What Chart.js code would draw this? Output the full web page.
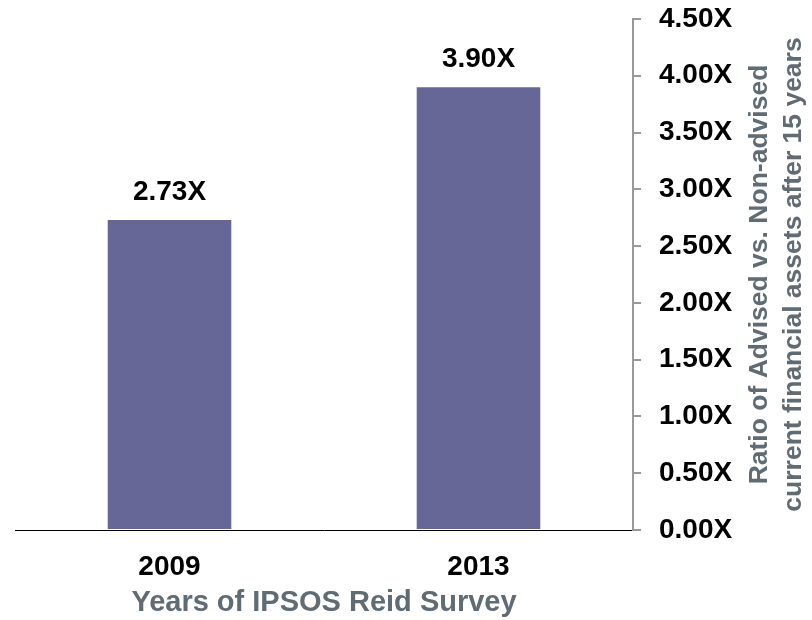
<!DOCTYPE html>
<html>
<head>
<meta charset="utf-8">
<title>Advised vs. Non-advised</title>
<script src="https://cdn.jsdelivr.net/npm/chart.js@4.4.1/dist/chart.umd.min.js"></script>
<style>
  html, body { margin: 0; padding: 0; background: #fff; }
  #wrap { width: 812px; height: 620px; }
</style>
</head>
<body>
<div id="wrap"><canvas id="grafico" width="812" height="620"></canvas></div>
<script>
var anni = ['2009', '2013'];
var rapporto = [2.73, 3.90];
var titoloY = ['Ratio of Advised vs. Non-advised', 'current financial assets after 15 years'];
var titoloX = 'Years of IPSOS Reid Survey';

var FONT = '"Liberation Sans", Arial, Helvetica, sans-serif';
var GRIGIO = '#606b73';

function fmtX(v) { return Number(v).toFixed(2) + 'X'; }

// etichette sopra le barre
var etichette = {
  id: 'etichette',
  afterDatasetsDraw: function(chart) {
    var ctx = chart.ctx;
    var meta = chart.getDatasetMeta(0);
    ctx.save();
    ctx.font = 'bold 28px ' + FONT;
    ctx.fillStyle = '#000';
    ctx.textAlign = 'center';
    ctx.textBaseline = 'middle';
    meta.data.forEach(function(bar, i) {
      ctx.fillText(fmtX(rapporto[i]), bar.x, bar.y - 28);
    });
    ctx.restore();
  }
};

// titolo asse destro, ruotato dal basso verso l'alto
var titoloDestro = {
  id: 'titoloDestro',
  afterDraw: function(chart) {
    var ctx = chart.ctx;
    var area = chart.chartArea;
    var cy = (area.top + area.bottom) / 2;
    var xs = [767, 801];
    ctx.save();
    ctx.font = 'bold 26.5px ' + FONT;
    ctx.fillStyle = GRIGIO;
    ctx.textAlign = 'center';
    ctx.textBaseline = 'alphabetic';
    titoloY.forEach(function(riga, i) {
      ctx.save();
      ctx.translate(xs[i], cy);
      ctx.rotate(-Math.PI / 2);
      ctx.fillText(riga, 0, 0);
      ctx.restore();
    });
    ctx.restore();
  }
};

var options = {
  type: 'bar',
  data: {
    labels: anni,
    datasets: [{
      data: rapporto,
      backgroundColor: '#676797',
      barPercentage: 0.4,
      categoryPercentage: 1.0
    }]
  },
  options: {
    responsive: false,
    animation: false,
    layout: { padding: { top: 19, left: 15 } },
    plugins: {
      legend: { display: false },
      tooltip: { enabled: false }
    },
    scales: {
      x: {
        grid: { display: false, drawTicks: false },
        border: { display: true, color: '#000', width: 1 },
        ticks: {
          color: '#000',
          padding: 20,
          font: { family: FONT, size: 28, weight: 'bold' }
        },
        title: {
          display: true,
          text: titoloX,
          color: GRIGIO,
          padding: { top: 0, bottom: 0 },
          font: { family: FONT, size: 29, weight: 'bold' }
        },
        afterFit: function(scale) { scale.height = 90; }
      },
      y: {
        position: 'right',
        min: 0,
        max: 4.5,
        grid: { drawOnChartArea: false, drawTicks: true, tickLength: 8, color: '#999', lineWidth: 2 },
        border: { display: true, color: '#999', width: 2 },
        ticks: {
          stepSize: 0.5,
          color: '#000',
          padding: 18,
          font: { family: FONT, size: 28, weight: 'bold' },
          callback: function(v) { return fmtX(v); }
        },
        afterFit: function(scale) {
          scale.width = 179;
          // la prima etichetta può sporgere sopra l'area
          scale.paddingTop = 0;
          scale.paddingBottom = 0;
        }
      }
    }
  },
  plugins: [etichette, titoloDestro]
};

var ctx = document.getElementById('grafico').getContext('2d');
window.graficoBarre = new Chart(ctx, options);
</script>
</body>
</html>
